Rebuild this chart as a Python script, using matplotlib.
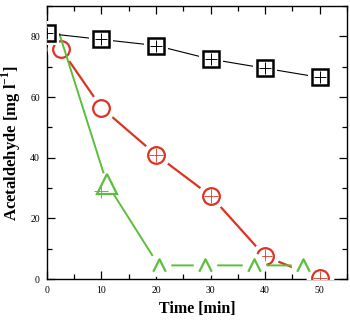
import matplotlib
matplotlib.use("Agg")
import matplotlib.pyplot as plt
from matplotlib.path import Path
from matplotlib.ticker import MultipleLocator

# data
t_black = [0, 10, 20, 30, 40, 50]
c_black = [81, 79, 77, 72.5, 69.5, 66.5]

t_red = [2.5, 10, 20, 30, 40, 50]
c_red = [76, 56.5, 41, 27.5, 7.5, 0.3]

t_green = [2.3, 11, 20.5, 29, 38, 47]
c_green = [80.8, 31.5, 4.5, 4.5, 4.5, 4.5]

# open "^" marker used for the flat green points
caret = Path([(-1, -1), (0, 1), (1, -1)], [Path.MOVETO, Path.LINETO, Path.LINETO])

plt.rcParams['font.family'] = ['Liberation Serif', 'DejaVu Serif']
plt.rcParams['mathtext.fontset'] = 'custom'
plt.rcParams['mathtext.rm'] = 'Liberation Serif'
plt.rcParams['mathtext.bf'] = 'Liberation Serif:bold'

fig = plt.figure(figsize=(3.5, 3.2), dpi=100)
ax = fig.add_axes([0.134, 0.128, 0.857, 0.853])

black = 'k'
red = '#dd3322'
green = '#5cbf3c'

# red circles
ax.plot(t_red, c_red, '-', color=red, lw=1.6, zorder=2)
ax.plot(t_red, c_red, 'o', ms=20, mfc='white', mec='white', mew=0, zorder=3)
ax.plot(t_red, c_red, 'o', ms=12, mfc='white', mec=red, mew=1.6, zorder=4)
ax.plot(t_red[2:], c_red[2:], '+', ms=10, mec=red, mew=0.6, zorder=5)

# green triangles
ax.plot(t_green, c_green, '-', color=green, lw=1.4, zorder=6)
ax.plot(t_green[1:], c_green[1:], 'o', ms=17, mfc='white', mec='white', mew=0, zorder=7)
ax.plot(t_green[1:2], c_green[1:2], '^', ms=14, mfc='white', mec=green, mew=1.6, zorder=8)
ax.plot(t_green[2:], c_green[2:], marker=caret, ls='none', ms=9, mfc='none', mec=green, mew=1.6, zorder=8)
ax.plot([10], [29], '+', ms=10, mec=green, mew=0.7, zorder=9)

# black squares
ax.plot(t_black, c_black, '-', color=black, lw=0.8, zorder=10)
ax.plot(t_black, c_black, 's', ms=17, mfc='white', mec='white', mew=0, zorder=11)
ax.plot(t_black, c_black, 's', ms=11.5, mfc='white', mec=black, mew=1.8, zorder=12)
ax.plot(t_black, c_black, '+', ms=9, mec=black, mew=0.7, zorder=13)

ax.set_xlim(0, 55)
ax.set_ylim(0, 90)
ax.xaxis.set_major_locator(MultipleLocator(10))
ax.xaxis.set_minor_locator(MultipleLocator(5))
ax.yaxis.set_major_locator(MultipleLocator(20))
ax.yaxis.set_minor_locator(MultipleLocator(10))
ax.tick_params(which='both', direction='in', top=True, right=True, labelsize=7, pad=5)
ax.tick_params(which='major', length=6, width=0.9)
ax.tick_params(which='minor', length=3.5, width=0.9)
for s in ax.spines.values():
    s.set_linewidth(1.0)

ax.set_xlabel('Time [min]', fontsize=11.5, fontweight='bold', labelpad=4)
ax.set_ylabel('Acetaldehyde [mg l$^{\\mathbf{-1}}$]', fontsize=12, fontweight='bold', labelpad=5)

fig.savefig('out.png', dpi=100)
